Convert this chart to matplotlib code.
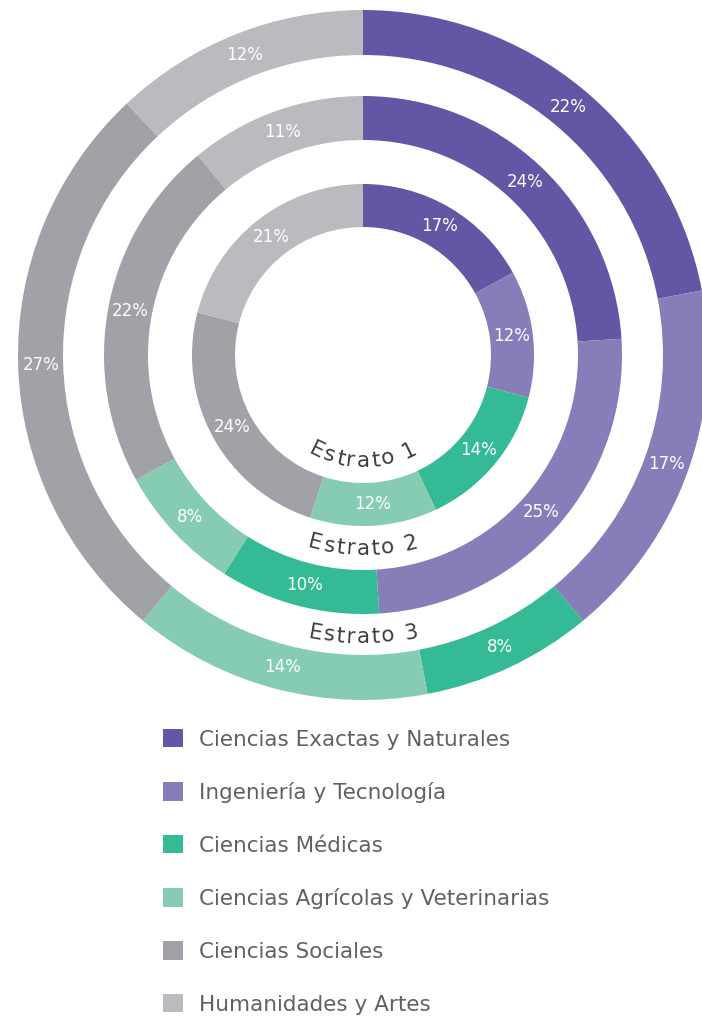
import numpy as np
import matplotlib.pyplot as plt
from matplotlib.patches import Patch

# Data: share of each field by stratum (clockwise from top)
categories = ['Ciencias Exactas y Naturales', 'Ingeniería y Tecnología', 'Ciencias Médicas',
              'Ciencias Agrícolas y Veterinarias', 'Ciencias Sociales', 'Humanidades y Artes']
estrato_1 = [17, 12, 14, 12, 24, 21]
estrato_2 = [24, 25, 10, 8, 22, 11]
estrato_3 = [22, 17, 8, 14, 27, 12]
ring_names = ['Estrato 1', 'Estrato 2', 'Estrato 3']

colors = ['#6456a5', '#877db8', '#35ba96', '#85ccb3', '#a0a2a7', '#babbbf']

W, H = 702, 1021
cx, cy = 363, H - 355
# (outer radius, width, radius of the curved title)
rings = [(171, 43, 106), (259, 44, 194), (345, 45, 282)]

fig = plt.figure(figsize=(W / 100, H / 100), dpi=100)
ax = fig.add_axes([0, 0, 1, 1])
renderer = fig.canvas.get_renderer()

fs = 15.5      # curved title size
track = 1.5    # extra letter spacing, px

def width(s):
    if not s:
        return 0.0
    t = ax.text(0, 0, s.replace(' ', '\u00a0'), fontsize=fs)
    bb = t.get_window_extent(renderer)
    t.remove()
    return bb.width

for vals, (r, w, rt), name in zip([estrato_1, estrato_2, estrato_3], rings, ring_names):
    wedges, _ = ax.pie(vals, radius=r, center=(cx, cy), startangle=90, counterclock=False,
                       colors=colors, wedgeprops=dict(width=w, linewidth=0))
    # percentage labels in the middle of each segment
    cum = np.cumsum([0] + vals)
    for i, v in enumerate(vals):
        mid = (cum[i] + v / 2) / sum(vals) * 360
        ang = np.deg2rad(90 - mid)
        rm = r - w / 2
        ax.text(cx + rm * np.cos(ang), cy + rm * np.sin(ang), f'{v}%',
                ha='center', va='center', color='white', fontsize=12)

    # curved title along the bottom of the ring
    n = len(name)
    total = width(name) + track * (n - 1)
    for i, ch in enumerate(name):
        c = (width(name[:i]) + width(name[:i + 1])) / 2 + track * i - total / 2
        phi = -np.pi / 2 + c / rt
        ax.text(cx + rt * np.cos(phi), cy + rt * np.sin(phi), ch, fontsize=fs,
                rotation=np.rad2deg(phi) + 90, rotation_mode='anchor',
                ha='center', va='center', color='#3c3c44')

ax.set_xlim(0, W)
ax.set_ylim(0, H)
ax.set_aspect('equal')
ax.axis('off')

handles = [Patch(facecolor=c, edgecolor='none') for c in colors]
fig.legend(handles, categories, loc='upper left', bbox_to_anchor=(163 / W, (H - 729) / H),
           frameon=False, fontsize=15.5, labelcolor='#606066', borderpad=0, borderaxespad=0,
           handlelength=0.93, handleheight=0.93, handletextpad=0.75, labelspacing=1.5)

fig.savefig('out.png', dpi=100)
